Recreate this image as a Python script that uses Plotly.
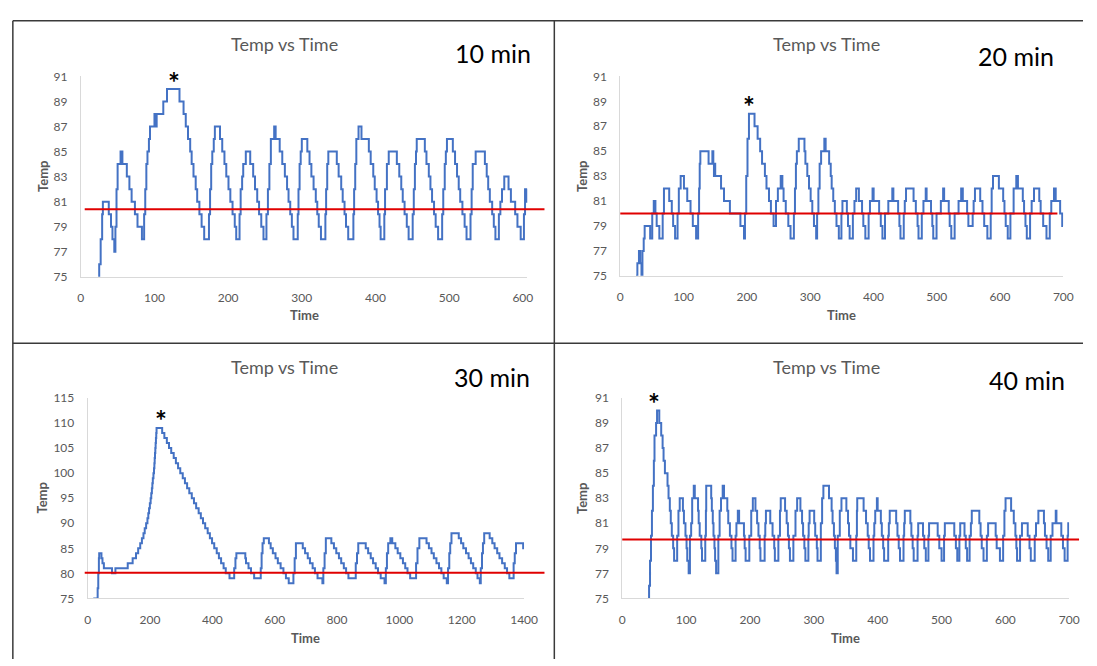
import plotly.graph_objects as go

# ---------------- data ----------------
t10 = [22, 25, 27, 29, 30, 38, 41, 43, 45.5, 47, 48.5, 50, 54, 56.5, 62.5, 66, 69, 73.5, 77, 83,
       86, 87.5, 89, 90.5, 92.5, 94, 100, 101.5, 103, 112, 117, 134, 139.5, 142.5, 145.5, 148.5,
       150.5, 153, 156, 158, 161, 164, 167.5, 174, 175.5, 177, 178.5, 180.5, 182, 189, 192, 195,
       197.5, 200.5, 203, 206, 209, 211, 215.5, 217, 219, 220.5, 224, 230, 234, 236.5, 239.5, 242,
       245, 248, 252, 254, 256, 258, 262.5, 264.5, 270, 273.5, 277, 280, 282, 284.3, 286.5, 288.7,
       294.5, 295.5, 297, 298.5, 300, 307.5, 310.5, 313, 316, 319, 321, 323, 326, 332, 333, 334.5,
       336, 347.5, 350, 353.5, 355.5, 358, 360, 363, 370, 371, 372.5, 374, 377, 381, 391, 393.5,
       397, 399, 401.5, 403.5, 405.5, 407, 412, 413, 415.5, 418, 429, 432.3, 435, 437, 439.5, 442.5,
       445, 450.5, 452, 453.5, 455, 456, 467, 469.2, 472.4, 474.6, 476.8, 479.5, 481.7, 485, 490.5,
       492, 494, 495.5, 497, 505, 508, 510.7, 513, 515, 518, 521, 523.6, 529, 530.5, 532, 536,
       548.5, 551, 553, 555.2, 558.4, 560.6, 562.8, 567.5, 569.5, 571.7, 574.8, 580.6, 583.8,
       589.6, 592.7, 597.1, 601.5, 603, 605, 606]
temp10 = [74, 76, 78, 80, 81, 80, 79, 78, 77, 79, 82, 84, 85, 84, 83, 82, 81, 80, 79, 78,
          80, 82, 84, 85, 86, 87, 88, 87, 88, 89, 90, 89, 88, 87, 86, 85,
          84, 83, 82, 81, 80, 79, 78, 80, 82, 84, 85, 86, 87, 86, 85, 84,
          83, 82, 81, 80, 79, 78, 80, 82, 83, 84, 85, 84, 83, 82, 81, 80,
          79, 78, 80, 82, 84, 86, 87, 86, 85, 84, 83, 82, 81, 80, 79, 78,
          80, 82, 84, 85, 86, 85, 84, 83, 82, 81, 80, 79, 78, 80, 82, 84,
          85, 84, 83, 82, 81, 80, 79, 78, 80, 82, 84, 86, 87, 86, 85, 84,
          83, 82, 81, 80, 79, 78, 80, 82, 84, 85, 84, 83, 82, 81, 80, 79,
          78, 80, 82, 84, 85, 86, 85, 84, 83, 82, 81, 80, 79, 78, 80,
          82, 84, 85, 86, 85, 84, 83, 82, 81, 80, 79, 78, 80, 82, 84, 85,
          84, 83, 82, 81, 80, 79, 78, 80, 81, 82, 83, 82, 81,
          80, 79, 78, 80, 82, 81, 82]

t20 = [25, 27, 29.5, 31.5, 33.5, 35, 37, 38.5, 47.2, 50.5, 52.9, 55.5, 57.5, 61.7, 67, 69, 77.3,
       81.4, 83.5, 86.6, 90.5, 92.5, 95.4, 100.6, 105.8, 111, 114.6, 119.8, 123, 124.5, 125.5,
       126.5, 139.5, 145.5, 147, 148, 149, 150, 159.2, 163.9, 173.2, 189.8, 195.5, 197, 199, 201,
       203.3, 212.1, 217, 221, 224, 228.5, 231, 235, 238, 242.2, 246, 249, 253.5, 256.1, 258,
       261.5, 265.5, 269, 274.3, 276, 277.5, 279, 282, 291, 292.5, 295.5, 298.2, 300.8, 303.4,
       306, 309.5, 311, 313, 315, 317.3, 322.4, 324.5, 330, 332.5, 334, 336.5, 339, 341.6, 345.3,
       349.4, 351, 358, 359.8, 362.4, 367.5, 370, 372.7, 377, 382, 384, 387.2, 392.4, 394.5, 398.6,
       400.3, 409, 411.6, 414.2, 418.3, 423.5, 429.8, 431.5, 439, 441, 442.7, 447.9, 449.5, 451.5,
       463.4, 467, 469.7, 471.2, 476.4, 479, 482.6, 484, 491, 493, 494.5, 499.7, 506.5, 510.1,
       511.7, 519, 520.5, 523, 528.3, 534.5, 538.6, 541.2, 548, 550, 556.8, 558.3, 560.4, 568.7,
       572.3, 575, 580, 585.3, 586.8, 588.9, 598.2, 605, 607, 609, 612.2, 616.4, 621.5, 625.7,
       628.3, 636, 638, 640.2, 642.3, 647.5, 650, 653.7, 662, 664.2, 668.2, 673.4, 678.6, 681,
       685.3, 688, 695, 698.3, 699.5]
temp20 = [75, 76, 77, 76, 74.8, 77, 78, 79, 78, 80, 81, 80, 79, 78, 80, 82, 81,
          80, 79, 78, 80, 82, 83, 82, 81, 80, 79, 78, 80, 82, 84,
          85, 84, 85, 84, 83, 84, 83, 82, 81, 80, 79, 78, 80, 83, 86,
          88, 87, 86, 85, 84, 83, 82, 81, 80, 79, 81, 82, 83, 82, 81,
          80, 79, 78, 80, 82, 84, 85, 86, 85, 84, 83, 82, 81, 80,
          79, 78, 80, 82, 84, 85, 86, 85, 84, 83, 82, 81, 80, 79, 78,
          80, 81, 80, 79, 78, 80, 81, 82, 81, 80, 79, 78, 80, 81, 82,
          81, 80, 79, 78, 80, 81, 82, 81, 80, 79, 78, 80, 81, 82,
          81, 80, 79, 78, 80, 81, 82, 81, 80, 79, 78, 80, 81, 82,
          81, 80, 79, 78, 80, 81, 82, 81, 80, 79, 80, 81, 82, 81,
          80, 79, 78, 80, 82, 83, 82, 81, 80, 79, 78, 80, 82, 83,
          82, 81, 80, 79, 78, 80, 81, 82, 81, 80, 79, 78, 80, 81,
          82, 81, 80, 79, 79]

t30 = [18, 32, 34, 36, 37, 44.2, 47.5, 52, 78, 89, 128.5, 144.3, 155, 162, 168.6, 174, 179, 183,
       187.5, 191.7, 194.5, 197, 199.5, 202, 204, 206, 207.5, 209, 211, 212.8, 214, 215, 216, 217,
       218, 219, 220, 221, 239, 246, 254, 261, 268, 276, 283, 290, 297, 305, 312, 319, 326, 334,
       341, 348, 356, 363, 370, 377, 385, 392, 399, 406, 414, 421, 428, 436, 443, 455, 470, 474,
       477, 505.7, 508, 516, 524, 534, 555.2, 558, 561, 565, 581.5, 587, 594, 602.6, 610, 619,
       628, 636, 645, 655, 660, 664, 668, 687, 690, 697.4, 706, 713, 721.6, 729, 737.4, 753, 756,
       760, 764, 779.6, 781.7, 790, 797.5, 806, 813.3, 821.7, 829, 836.5, 860, 864, 868, 889, 892,
       899.7, 908, 915.5, 924, 931.3, 940, 952.3, 956.5, 960, 964, 971, 977, 987, 994.5, 1003,
       1011.3, 1018.7, 1026, 1034.5, 1053.5, 1058, 1064, 1085, 1087, 1094.6, 1103, 1110.4, 1118.8,
       1127, 1134.6, 1142, 1152, 1156, 1160, 1163, 1167, 1187.3, 1190.4, 1197.8, 1205, 1213.6,
       1222, 1229.4, 1236.8, 1245, 1250.5, 1258, 1261, 1265, 1268, 1272, 1287.4, 1289.5, 1298,
       1305.3, 1313.7, 1321, 1329.5, 1338, 1345.3, 1352.7, 1366.4, 1370, 1374, 1397, 1400]
temp30 = [75, 77, 80, 83, 84, 83, 82, 81, 80, 81, 82, 83, 84, 85, 86, 87, 88, 89,
          90, 91, 92, 93, 94, 95, 96, 97, 98, 99, 100, 101, 102, 103, 104, 105,
          106, 107, 108, 109, 108, 107, 106, 105, 104, 103, 102, 101, 100, 99, 98, 97, 96, 95,
          94, 93, 92, 91, 90, 89, 88, 87, 86, 85, 84, 83, 82, 81, 80, 79, 81, 83,
          84, 83, 82, 81, 80, 79, 81, 84, 86, 87, 86, 85, 84, 83, 82, 81,
          80, 79, 78, 78, 80, 83, 86, 86, 85, 84, 83, 82, 81, 80, 79, 78, 81,
          84, 87, 87, 86, 85, 84, 83, 82, 81, 80, 79, 82, 84, 86, 86, 85,
          84, 83, 82, 81, 80, 79, 78, 81, 84, 86, 87, 86, 85, 84, 83,
          82, 81, 80, 79, 82, 85, 87, 87, 86, 85, 84, 83, 82,
          81, 80, 79, 78, 81, 84, 86, 88, 88, 87, 86, 85, 84,
          83, 82, 81, 80, 79, 78, 81, 84, 86, 88, 88, 87, 86,
          85, 84, 83, 82, 81, 80, 79, 82, 84, 86, 85, 85]

t40 = [40, 42, 43.5, 45, 46.5, 48, 49.5, 50.5, 53, 54.5, 58, 61, 63.2, 64.7, 66.8, 70.9, 72.5,
       74.5, 76, 77.6, 79.7, 81.2, 86, 88, 90, 95, 96.6, 99, 100.7, 101.8, 104, 106, 107.9, 109.5,
       112, 113.6, 118.7, 119.7, 121.3, 123.8, 124.9, 130, 131, 131.5, 139.3, 140.3, 141.8, 142.9,
       144.4, 145.4, 147, 150.5, 152.5, 154.7, 157.3, 159.4, 164.5, 166, 168.6, 171, 172.7, 177.5,
       178.8, 181, 183, 190.6, 191.7, 193.2, 199, 202, 204.5, 208.6, 211.2, 213.3, 215.3, 216.4,
       223, 224, 225, 231.8, 235.4, 238, 239, 244.5, 247, 248.2, 255, 257.5, 259.5, 261, 262.6,
       268, 271.3, 273.9, 279, 281.6, 283.2, 285.2, 286.8, 291.5, 292, 293.4, 300.6, 302.2, 304.7,
       305.8, 311, 313, 315, 323.8, 327.9, 329.4, 331.5, 333, 334.6, 335.6, 337.5, 340.7, 343.3,
       351, 353.6, 355.1, 357.2, 361.3, 366.5, 367.5, 368, 378, 381.8, 384.4, 386, 388, 393.5,
       394.7, 396.2, 398.8, 400, 405, 406.5, 408.6, 410.1, 416.5, 417.5, 418.9, 429, 431, 433, 435,
       440.5, 441.5, 442.5, 451.2, 452.8, 454.8, 456.4, 462.5, 463.5, 471, 473, 475.4, 479.5,
       480.5, 494, 496.5, 500.1, 504, 505.2, 520, 522.5, 524.7, 528, 529.3, 536, 538, 540.1, 544,
       546, 547.4, 559.2, 561.2, 563, 565.8, 571, 573, 584.8, 586.4, 591.5, 596.5, 598.5, 600.3,
       609, 613.2, 615.7, 617.2, 618.3, 623, 626, 635, 637.8, 639.8, 646, 648, 651.7, 660.4, 662,
       664.5, 667.1, 671, 673.8, 678.9, 680, 687.6, 690.2, 692.8, 697.5, 698.5, 700]
temp40 = [74, 76, 78, 80, 82, 84, 86, 88, 89, 90, 89, 88, 87, 86, 85, 84, 83,
          82, 81, 80, 79, 78, 80, 82, 83, 82, 81, 80, 79, 78, 77, 80, 81, 83,
          84, 83, 82, 81, 80, 79, 78, 80, 82, 84, 83, 82, 81, 80,
          79, 78, 77, 80, 82, 83, 84, 83, 82, 81, 80, 79, 78, 80,
          81, 82, 81, 80, 79, 78, 80, 82, 83, 82, 81, 80, 79, 78,
          80, 81, 82, 81, 80, 79, 78, 80, 82, 83, 82, 81, 80, 79, 78,
          80, 82, 83, 82, 81, 80, 79, 78, 80, 81, 82, 81, 80, 79,
          78, 81, 83, 84, 83, 82, 81, 80, 79, 78, 77, 80, 82, 83,
          82, 81, 80, 79, 78, 80, 82, 83, 82, 81, 80, 79, 78, 80,
          81, 82, 83, 82, 81, 80, 79, 78, 80, 81, 82, 81, 80, 79, 78,
          80, 81, 82, 81, 80, 79, 78, 80, 81, 80, 79, 78, 80,
          81, 80, 79, 78, 80, 81, 80, 79, 78, 80, 81, 80, 79, 78, 80,
          81, 82, 81, 80, 79, 78, 80, 81, 80, 79, 78, 80, 82, 83,
          82, 81, 80, 79, 78, 80, 81, 80, 79, 78, 80, 81, 82, 81, 80,
          79, 78, 80, 81, 82, 81, 80, 79, 78, 80, 81, 81]

setpoints = [80.4, 80.0, 80.1, 79.7]
durations = ["10 min", "20 min", "30 min", "40 min"]
chart_title = "Temp vs Time"
x_label = "Time"
y_label = "Temp"

# ---------------- layout (pixels of the 1097x666 page) ----------------
W, H = 1097, 666
def px(x): return x / W
def py(y): return 1 - y / H

BLUE = "#4472C4"
RED = "#E00000"
GREY_TXT = "#595959"
AXIS = "#D9D9D9"
FONT = "Lato, 'Open Sans', sans-serif"

panels = [
    dict(t=t10, v=temp10, xd=(79, 532.5), yd=(70, 275), xr=(0, 606), xdt=100, yr=(75, 91), ydt=2,
         red=(83, 550), title=(286, 37), dur=(498, 46), star=(174, 76), ttl_y=314, ytl_x=40),
    dict(t=t20, v=temp20, xd=(627, 1077), yd=(70, 274), xr=(0, 700), xdt=100, yr=(75, 91), ydt=2,
         red=(627, 1071), title=(836, 37), dur=(1029, 49), star=(758, 100), ttl_y=314, ytl_x=588),
    dict(t=t30, v=temp30, xd=(86, 529.3), yd=(399, 604), xr=(0, 1400), xdt=200, yr=(75, 115), ydt=5,
         red=(83, 550), title=(286, 367), dur=(497, 377), star=(160, 421), ttl_y=645, ytl_x=40),
    dict(t=t40, v=temp40, xd=(629, 1083), yd=(399, 604), xr=(0, 700), xdt=100, yr=(75, 91), ydt=2,
         red=(629, 1093), title=(836, 367), dur=(1040, 381), star=(661, 404), ttl_y=645, ytl_x=588),
]

fig = go.Figure()
layout = dict(width=W, height=H, margin=dict(l=0, r=0, t=0, b=0),
              paper_bgcolor="white", plot_bgcolor="white", showlegend=False,
              font=dict(family=FONT, color=GREY_TXT))
shapes, annotations = [], []

def note(text, x, y, size, color, **kw):
    return dict(text=text, x=px(x), y=py(y), xref="paper", yref="paper", showarrow=False,
                xanchor="center", yanchor="middle", font=dict(size=size, color=color, family=FONT), **kw)

for i, p in enumerate(panels):
    k = "" if i == 0 else str(i + 1)
    fig.add_trace(go.Scatter(x=p["t"], y=p["v"], mode="lines",
                             line=dict(color=BLUE, width=2, shape="hv"),
                             xaxis="x" + k, yaxis="y" + k, hoverinfo="skip"))
    common = dict(showgrid=False, zeroline=False, showline=True, linecolor=AXIS, linewidth=1,
                  ticks="outside", ticklen=10, tickcolor="rgba(0,0,0,0)",
                  tickfont=dict(size=12, color=GREY_TXT, family=FONT), fixedrange=True)
    layout["xaxis" + k] = dict(common, domain=[px(p["xd"][0]), px(p["xd"][1])], range=list(p["xr"]),
                               tick0=0, dtick=p["xdt"], anchor="y" + k)
    layout["yaxis" + k] = dict(common, domain=[py(p["yd"][1]), py(p["yd"][0])], range=list(p["yr"]),
                               tick0=p["yr"][0], dtick=p["ydt"], anchor="x" + k)
    shapes.append(dict(type="line", xref="paper", yref="y" + k, x0=px(p["red"][0]), x1=px(p["red"][1]),
                       y0=setpoints[i], y1=setpoints[i], line=dict(color=RED, width=2)))
    annotations += [
        note(chart_title, *p["title"], 18, GREY_TXT),
        note(durations[i], *p["dur"], 25, "black"),
        note("<b>*</b>", *p["star"], 28, "black"),
        note("<b>" + x_label + "</b>", (p["xd"][0] + p["xd"][1]) / 2, p["ttl_y"], 13, GREY_TXT),
        note("<b>" + y_label + "</b>", p["ytl_x"], (p["yd"][0] + p["yd"][1]) / 2, 13, GREY_TXT,
             textangle=-90),
    ]

BORDER = dict(color="#3a3a3a", width=1.5)
for x0, y0, x1, y1 in [(10, 13, W, 13), (10, 343, W, 343), (10, 13, 10, H), (560, 13, 560, H)]:
    shapes.append(dict(type="line", xref="paper", yref="paper", x0=px(x0), y0=py(y0),
                       x1=px(x1), y1=py(y1), line=BORDER))

layout["shapes"] = shapes
layout["annotations"] = annotations
fig.update_layout(**layout)
fig.write_html("out.html")
